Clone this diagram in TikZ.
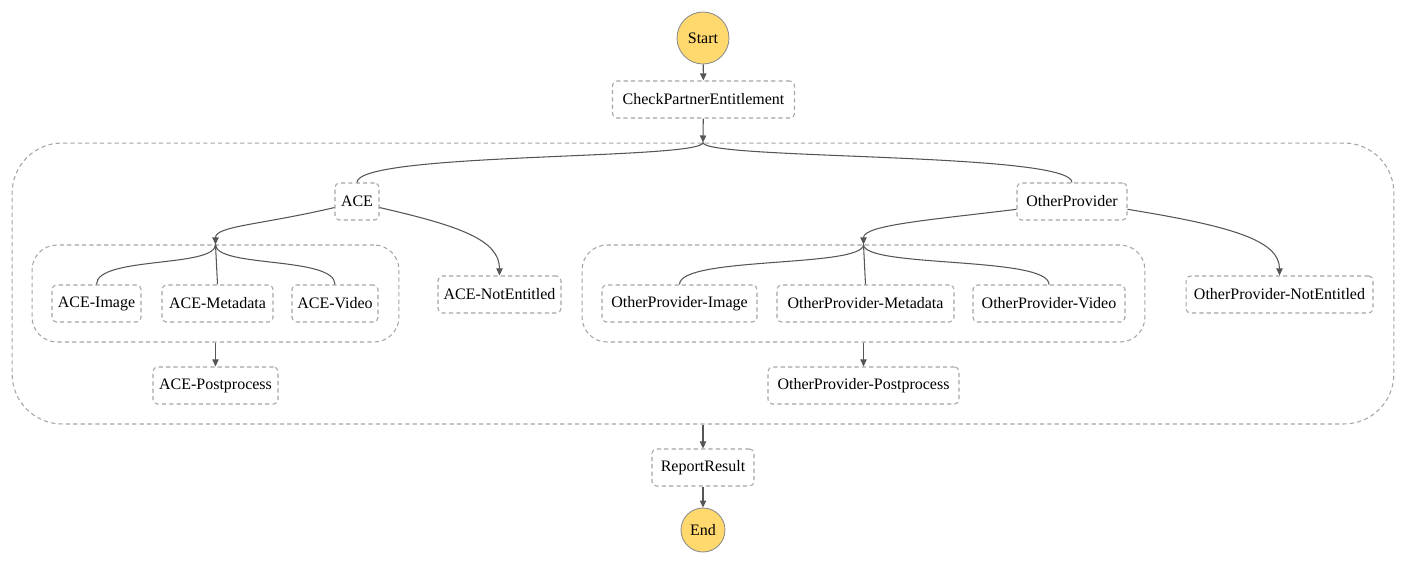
\documentclass[tikz,border=0pt]{standalone}
\usepackage{fontspec}
\setmainfont{Liberation Serif}
\usetikzlibrary{arrows.meta}
\definecolor{stategold}{HTML}{FFD86E}
\definecolor{stateedge}{HTML}{8E8E8E}
\definecolor{dashedge}{HTML}{A5A5A5}
\definecolor{flowline}{HTML}{555555}
\tikzset{
  statebox/.style={draw=dashedge, line width=0.6pt, dash pattern=on 2.4pt off 1.8pt,
    rounded corners=2.5pt, minimum height=0.74cm, inner sep=0pt,
    font=\fontsize{9.1}{11}\selectfont},
  termstate/.style={circle, draw=stateedge, line width=0.5pt, fill=stategold,
    inner sep=0pt, font=\fontsize{9.1}{11}\selectfont},
  groupbox/.style={draw=dashedge, line width=0.6pt, dash pattern=on 2.4pt off 1.8pt,
    inner sep=0pt, minimum height=1.94cm},
  flow/.style={draw=flowline, line width=0.6pt},
  flowarrow/.style={flow, -{Triangle[length=4pt,width=3.6pt]}},
}

\begin{document}
\begin{tikzpicture}[x=0.02cm, y=-0.02cm]
		%%%%% START %%%%%
		\useasboundingbox (0, 0) rectangle (1407, 565);
		
		% parallel containers
		\node[groupbox, rounded corners=1cm, minimum width=27.64cm, minimum height=5.62cm] (outer) at (703, 283.5) {};
		\node[groupbox, rounded corners=0.5cm, minimum width=7.34cm] (acegroup) at (215.5, 293.5) {};
		\node[groupbox, rounded corners=0.5cm, minimum width=11.26cm] (opgroup) at (863.5, 293.5) {};
		
		\node[termstate, minimum size=1.04cm] (start) at (703, 38) {Start};
		\node[statebox, minimum width=3.64cm] (check) at (703.5, 99.5) {CheckPartnerEntitlement};
		
		\node[statebox, minimum width=0.88cm] (ace) at (357, 201.5) {ACE};
		\node[statebox, minimum width=2.2cm] (op) at (1072, 201.5) {OtherProvider};
		
		\node[statebox, minimum width=1.78cm] (aceimg) at (96.5, 303.5) {ACE-Image};
		\node[statebox, minimum width=2.22cm] (acemeta) at (217.5, 303.5) {ACE-Metadata};
		\node[statebox, minimum width=1.72cm] (acevid) at (335, 303.5) {ACE-Video};
		\node[statebox, minimum width=2.46cm] (acene) at (499.5, 294.5) {ACE-NotEntitled};
		\node[statebox, minimum width=2.5cm] (acepost) at (215.5, 385.5) {ACE-Postprocess};
		
		\node[statebox, minimum width=3.1cm] (opimg) at (679.5, 303.5) {OtherProvider-Image};
		\node[statebox, minimum width=3.54cm] (opmeta) at (865.5, 303.5) {OtherProvider-Metadata};
		\node[statebox, minimum width=3.04cm] (opvid) at (1049, 303.5) {OtherProvider-Video};
		\node[statebox, minimum width=3.74cm] (opne) at (1279.5, 294.5) {OtherProvider-NotEntitled};
		\node[statebox, minimum width=3.82cm] (oppost) at (863.5, 385.5) {OtherProvider-Postprocess};
		
		\node[statebox, minimum width=2.04cm] (report) at (703, 467.5) {ReportResult};
		\node[termstate, minimum size=0.88cm] (end) at (703, 530) {End};
		
		% top part
		\draw[flowarrow] (start) -- (check);
		\draw[flowarrow] (check) -- (outer.north);
		\draw[flow] (outer.north) .. controls (703, 160) and (357, 152) .. (ace.north);
		\draw[flow] (outer.north) .. controls (703, 160) and (1072, 152) .. (op.north);
		
		% ACE branch
		\draw[flowarrow] (ace.195) .. controls (260, 225) and (215.5, 226) .. (acegroup.north);
		\draw[flowarrow] (ace.345) .. controls (460, 226) and (499.5, 240) .. (acene.north);
		\draw[flow] (acegroup.north) .. controls (215.5, 268) and (96.5, 256) .. (aceimg.north);
		\draw[flow] (acegroup.north) -- (acemeta.north);
		\draw[flow] (acegroup.north) .. controls (215.5, 268) and (335, 256) .. (acevid.north);
		\draw[flowarrow] (acegroup.south) -- (acepost);
		
		% OtherProvider branch
		\draw[flowarrow] (op.188) .. controls (930, 220) and (863.5, 225) .. (opgroup.north);
		\draw[flowarrow] (op.352) .. controls (1230, 226) and (1279.5, 240) .. (opne.north);
		\draw[flow] (opgroup.north) .. controls (863.5, 268) and (679.5, 256) .. (opimg.north);
		\draw[flow] (opgroup.north) -- (opmeta.north);
		\draw[flow] (opgroup.north) .. controls (863.5, 268) and (1049, 256) .. (opvid.north);
		\draw[flowarrow] (opgroup.south) -- (oppost);
		
		% bottom part
		\draw[flowarrow] (outer.south) -- (report);
		\draw[flowarrow] (report) -- (end);
		
		%%%%% END %%%%%
\end{tikzpicture}
\end{document}
